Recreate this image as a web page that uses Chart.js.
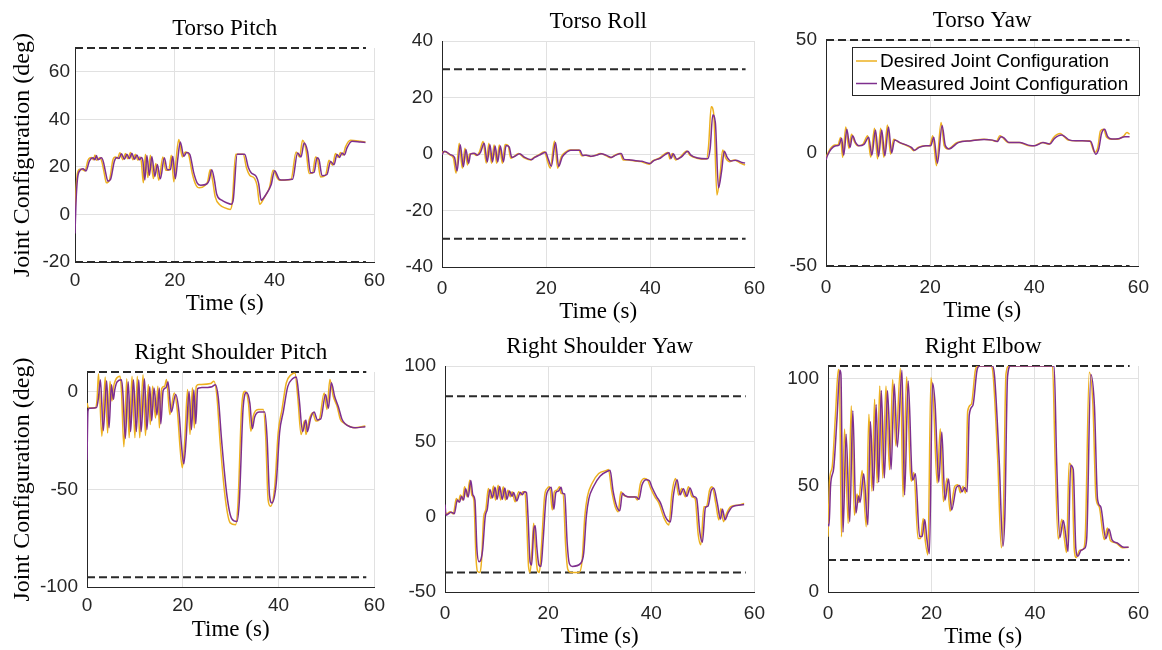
<!DOCTYPE html>
<html>
<head>
<meta charset="utf-8">
<script src="https://cdn.jsdelivr.net/npm/chart.js@4.4.1/dist/chart.umd.min.js"></script>
<style>
  html, body { margin: 0; padding: 0; background: #fff; }
  body { width: 1162px; height: 650px; position: relative; overflow: hidden; }
  canvas { position: absolute; }
</style>
</head>
<body>
<script>
// ---- data: [time (s), angle (deg)] ----
const timeTicks = [0, 20, 40, 60];
const limitSpan = [0, 58.3];

const torsoPitchTicks = [-20, 0, 20, 40, 60];
const torsoPitchLimits = [70, -20];
const torsoPitchDesired = [[0,1],[0.25,12],[0.5,17.5],[1,19],[1.6,18.8],[2,18.3],[2.6,22.8],[3.3,24],[3.7,23],[4,25],[4.3,22.8],[5,24],[5.4,22],[5.8,18],[6.3,13.3],[6.9,14.4],[7.6,23],[8.1,24.2],[8.5,23.5],[9,25.9],[9.6,23],[10.1,25.6],[10.6,23.4],[11.1,26],[11.6,23],[12.1,25.3],[12.6,22.8],[13,24.2],[13.3,22],[13.7,13.3],[14.1,25.3],[14.6,15.5],[15.1,24.9],[15.7,15.1],[16.2,21.4],[16.8,14.4],[17.6,24.2],[18.2,18.6],[18.8,18.6],[19.3,24.9],[19.8,13.7],[20.3,24],[20.8,31.5],[21.5,24.2],[22.1,26.3],[22.7,25.6],[23.5,17.2],[24.2,12.5],[24.9,11.2],[26.1,12.3],[26.6,14],[27.1,18.9],[27.6,14],[28.1,7.4],[29.1,3.9],[30,2.8],[31.1,2.1],[31.5,5],[32.2,25.3],[33.7,25.3],[34.4,19.3],[35,16.5],[36,15.1],[36.5,12],[37,4.3],[38,7.4],[39,11.6],[39.7,18.6],[40.6,15.1],[41,14.4],[43.3,14.8],[44.3,26.3],[45,24.2],[45.6,31.2],[46.3,27],[46.9,17.2],[47.6,17.5],[48.2,24.2],[48.6,23],[49.2,15.8],[50.2,16.5],[50.9,22.8],[51.6,20.7],[52.2,25.6],[52.7,24],[53.2,26],[53.7,25],[54.2,28.4],[55.2,31.2],[57.2,30.8],[58.2,30.5]];
const torsoPitchMeasured = [[0,-8],[0.2,5],[0.5,15],[1,18.5],[1.6,19.2],[2.2,18.3],[2.9,22.5],[3.6,23.8],[4,23],[4.3,24.8],[4.6,23],[5.3,23.8],[5.7,22],[6.1,18],[6.6,14],[7.1,14.6],[7.9,22.5],[8.4,24],[8.8,23.5],[9.3,25.5],[9.9,23.2],[10.4,25.3],[10.9,23.5],[11.4,25.7],[11.9,23.2],[12.4,25],[12.9,23],[13.3,24],[13.6,22.5],[14,14.5],[14.4,24.8],[14.9,16.5],[15.4,24.4],[16,16],[16.5,21],[17.1,15],[17.9,23.8],[18.5,18.8],[19.1,18.8],[19.6,24.5],[20.1,15],[20.6,23.5],[21.1,30.5],[21.8,24.5],[22.4,26],[23,25.3],[23.8,17.5],[24.5,13.2],[25.2,12.3],[26.4,12.8],[26.9,14.5],[27.4,18.8],[27.9,14.8],[28.4,8.5],[29.4,6],[30.3,5],[31.3,4.3],[31.7,6],[32.5,25.3],[34,25.3],[34.7,20],[35.3,17.5],[36.3,16],[36.8,13],[37.3,6],[38.3,8.5],[39.3,12.5],[40,18.4],[40.9,14.8],[41.3,14.5],[43.6,14.8],[44.6,25.8],[45.3,24.2],[45.9,30],[46.6,26.5],[47.2,17.5],[47.9,17.7],[48.5,23.8],[48.9,23],[49.5,16.3],[50.5,16.8],[51.2,22.3],[51.9,20.9],[52.5,25.2],[53,24],[53.5,25.8],[54,25],[54.5,28],[55.5,30.8],[57.2,30.5],[58.2,30.3]];

const torsoRollTicks = [-40, -20, 0, 20, 40];
const torsoRollLimits = [30, -30];
const torsoRollDesired = [[0,0.6],[0.6,0.8],[1.6,-0.4],[2.2,-1.5],[2.7,-6.8],[3.3,3.8],[3.9,-5],[4.4,2],[4.9,-3.9],[5.3,0],[6,0.2],[6.6,-0.5],[7.2,0.8],[7.9,4.4],[8.5,-3.3],[9,3.8],[9.5,-3.3],[10,3.2],[10.5,-3.3],[11,3.2],[11.6,-3.3],[12.1,3.4],[12.7,3],[13.2,-1.5],[13.8,-0.9],[14.7,0.2],[15.7,-1.3],[17,-2.1],[17.6,-1.3],[18.5,-0.4],[19.7,0.8],[20.2,-2.1],[20.8,-5],[21.6,4.6],[22.2,-5],[22.9,-1],[23.8,0.8],[24.5,1.4],[26.3,1.4],[26.8,-0.6],[27.6,-0.4],[28.5,-0.9],[29.5,-0.4],[30.4,0.2],[31.3,-0.4],[32.3,-1.3],[33.2,-0.4],[34.2,0.2],[34.8,-2.1],[35.7,-2.1],[37,-2.5],[38.2,-2.7],[39.8,-3.6],[40.4,-2.5],[41.7,-1.5],[42.9,0.2],[43.4,0.5],[43.8,-1.8],[44.2,0.2],[44.9,-2.1],[45.8,-1],[47,1.1],[47.6,-0.4],[48.9,-1.5],[50.8,-1.8],[51.2,3],[51.7,16.7],[52.2,13.8],[52.8,-14.5],[53.4,-7.4],[53.9,1.4],[54.5,-1.5],[55.2,-2.7],[56.1,-2.1],[57.4,-3.3],[58.2,-3.9]];
const torsoRollMeasured = [[0,-0.2],[0.5,1],[1.6,-0.2],[2.4,-1.2],[2.9,-6],[3.5,3.3],[4.1,-4.5],[4.6,1.6],[5.1,-3.3],[5.5,0],[6.2,0.3],[6.8,-0.4],[7.4,0.6],[8.1,3.8],[8.7,-2.8],[9.2,3.3],[9.7,-2.8],[10.2,2.8],[10.7,-2.8],[11.2,2.8],[11.8,-2.8],[12.3,3],[12.9,2.5],[13.4,-1.2],[14,-0.8],[14.9,0.1],[15.9,-1.2],[17.2,-2],[17.8,-1.2],[18.7,-0.4],[19.9,0.6],[20.4,-1.8],[21,-4.3],[21.8,4.1],[22.4,-4.4],[23.1,-1],[24,0.7],[24.7,1.3],[26.5,1.3],[27,-0.5],[27.8,-0.4],[28.7,-0.8],[29.7,-0.4],[30.6,0.1],[31.5,-0.4],[32.5,-1.2],[33.4,-0.4],[34.4,0.2],[35,-1.9],[35.9,-2],[37.2,-2.4],[38.4,-2.6],[40,-3.4],[40.6,-2.4],[41.9,-1.5],[43.1,0.1],[43.6,0.4],[44,-1.6],[44.4,0.1],[45.1,-1.9],[46,-1],[47.2,1],[47.8,-0.4],[49.1,-1.4],[51,-1.7],[51.5,2],[52,13.8],[52.5,11],[53.1,-12],[53.7,-6],[54.2,1],[54.8,-1.3],[55.5,-2.5],[56.4,-2.2],[57.6,-3],[58.2,-3.2]];

const torsoYawTicks = [-50, 0, 50];
const torsoYawLimits = [50, -50];
const torsoYawDesired = [[0,-1.9],[0.8,1.8],[1.75,3.5],[2.3,3.6],[2.8,6.9],[3.2,-1.9],[3.8,11.5],[4.4,2],[4.9,8.3],[5.5,4.8],[6.1,3.2],[7.1,3.9],[8,7.6],[8.6,-1.9],[9.3,11],[9.9,-2.6],[10.5,11],[11.1,-1.9],[11.8,12.4],[12.4,-0.5],[13,6.1],[14,4.7],[14.9,3.9],[16.2,2.5],[16.8,1],[17.7,2.5],[19,3.2],[19.9,3.2],[20.5,7.6],[21.2,-5.6],[22.1,13.5],[22.7,3.2],[23.4,1.8],[25.2,4.7],[27.7,5.4],[30.2,6.1],[31.8,5.7],[32.7,5.1],[33.4,7.6],[33.9,6.9],[34.9,4.7],[37.1,4.7],[39,3.2],[39.9,3.2],[41.5,4.7],[42.8,3.9],[43.7,6.9],[45,8.6],[45.6,7.6],[46.5,5.7],[47.8,5.4],[49,5.4],[50.6,5.4],[51.6,0.3],[52.2,2.5],[52.7,9.8],[53.3,10.5],[53.9,6.9],[54.7,6.1],[55.9,6.1],[57.2,7.6],[57.8,9.1],[58.3,8.3]];
const torsoYawMeasured = [[0,-3],[0.3,-1],[1,1.8],[1.9,3.2],[2.5,3.5],[3,6.5],[3.4,-1],[4,10.5],[4.6,2.5],[5.1,7.6],[5.7,4.6],[6.3,3.2],[7.3,3.8],[8.2,7],[8.8,-1],[9.5,10.2],[10.1,-1.5],[10.7,10.2],[11.3,-1.2],[12,11.5],[12.6,0],[13.2,5.8],[14.2,4.6],[15.1,3.8],[16.4,2.5],[17,1.2],[17.9,2.5],[19.2,3.2],[20.1,3.2],[20.7,7],[21.4,-4.5],[22.3,12.2],[22.9,3.4],[23.6,1.8],[25.4,4.6],[27.9,5.4],[30.4,6],[32,5.7],[32.9,5.1],[33.6,7.2],[34.1,6.8],[35.1,4.7],[37.3,4.6],[39.2,3.3],[40.1,3.2],[41.7,4.6],[43,4],[43.9,6.5],[45.2,8],[45.8,7.4],[46.7,5.8],[48,5.4],[49.2,5.4],[50.8,5.2],[51.8,-0.5],[52.4,2],[52.9,8.5],[53.5,10.5],[54.1,7.2],[54.9,6.2],[56.1,6.3],[57.4,7.2],[58.3,7.2]];

const shoulderPitchTicks = [-100, -50, 0];
const shoulderPitchLimits = [10, -95];
const shoulderPitchDesired = [[0,-5.8],[0.3,-8.4],[1.7,-8.4],[2.1,-4],[2.4,9.1],[3.1,-22.9],[3.8,7.4],[4.3,-21.2],[4.8,5.3],[5.2,-4.9],[5.5,1.9],[6,6.1],[6.9,7.8],[7.2,0],[7.7,-28.3],[8.3,6.5],[8.8,-23.7],[9.4,7.8],[10,-23.7],[10.5,7.8],[11,-23.7],[11.7,8.6],[12.2,-22.5],[12.8,3.6],[13.2,-16.9],[13.7,2.7],[14.3,-13.5],[14.8,2.7],[15.1,-18.6],[15.6,1.5],[16.2,2.7],[16.6,6.1],[17.3,-11.8],[18.2,-0.7],[18.9,-10.9],[19.4,-27.9],[19.9,-39],[20.4,-25],[21,1],[21.5,-22],[22,1.9],[22.4,-18.6],[22.8,2.7],[23.4,3.6],[25.8,4.1],[26.5,5.3],[27.1,-2],[27.8,-26.3],[28.9,-55.3],[29.9,-67.2],[31,-68.1],[31.5,-58],[32.3,-7.5],[33,0.2],[33.7,-5.8],[34.2,-20.3],[34.7,-12.6],[35.7,-9.2],[36.8,-9.2],[37.3,-23],[37.8,-55.3],[38.3,-58.7],[39.2,-48.4],[39.9,-21.2],[40.7,-9.2],[41.6,4.4],[42.6,8.6],[43.4,9.5],[44,-3],[44.7,-22],[45.4,-15],[45.7,-22],[46.4,-14.3],[47.1,-10.9],[47.8,-15.1],[48.5,-14.3],[49.5,-0.7],[50.1,-9.2],[50.7,6.1],[51.4,-2.4],[52.2,-7.5],[52.9,-14.3],[53.6,-16],[54.6,-17.6],[55.7,-18.5],[58.1,-17.6]];
const shoulderPitchMeasured = [[0,-35],[0.2,-10],[0.5,-8.5],[2,-8.2],[2.4,-3],[2.8,6],[3.4,-20],[4.1,5.5],[4.6,-18.5],[5.1,3.5],[5.5,-4],[5.8,1],[6.3,5],[7.2,6],[7.5,-1],[8,-24],[8.6,5],[9.1,-20.5],[9.7,6],[10.3,-20.5],[10.8,6],[11.3,-20.5],[12,6.5],[12.5,-19.5],[13.1,2.5],[13.5,-15],[14,1.8],[14.6,-12],[15.1,1.8],[15.4,-16.5],[15.9,0.5],[16.5,2],[16.9,5],[17.6,-10.5],[18.5,-1.5],[19.2,-10.5],[19.7,-27],[20.2,-37],[20.7,-24],[21.3,0],[21.8,-19.5],[22.3,0.8],[22.7,-16.5],[23.1,1.5],[23.7,2],[26.1,2.5],[26.8,3.5],[27.4,-3],[28.1,-25],[29.2,-53],[30.2,-65],[31.3,-66.5],[31.8,-56],[32.6,-8],[33.3,-0.5],[34,-6],[34.5,-19],[35,-13],[36,-10.5],[37.1,-10.5],[37.6,-24],[38.1,-53],[38.6,-57],[39.5,-47],[40.2,-21],[41,-10],[41.9,2.5],[42.9,6.5],[43.7,7.5],[44.3,-4],[45,-20.5],[45.7,-14.5],[46,-20.5],[46.7,-13.5],[47.4,-10.5],[48.1,-14.5],[48.8,-14],[49.8,-1.5],[50.4,-8.5],[51,4.5],[51.7,-2.5],[52.5,-8],[53.2,-14],[53.9,-16.5],[54.9,-18],[56,-18.5],[58.1,-18]];

const shoulderYawTicks = [-50, 0, 50, 100];
const shoulderYawLimits = [80, -37];
const shoulderYawDesired = [[0,3.3],[0.3,1.8],[1,3.3],[1.6,1.8],[2.2,12],[2.6,9.9],[3,14.3],[3.4,11],[3.8,19.8],[4.3,13.2],[4.8,24.2],[5.2,14.3],[5.6,11],[6,-26.4],[6.3,-36.3],[6.8,-37],[7.1,-28.6],[7.5,0],[7.9,4.4],[8.4,18.7],[8.9,12],[9.4,20.3],[9.8,11],[10.3,20.9],[10.8,11],[11.3,19.8],[11.7,11],[12.2,17.6],[12.7,13.2],[13,16.5],[13.6,9.9],[14.3,16.5],[14.7,14.3],[15.1,16.5],[15.5,16.5],[15.8,0],[16.2,-33],[16.5,-37],[16.9,-19.8],[17.2,-4.4],[17.5,-19.8],[17.9,-35.2],[18.3,-37],[18.7,-19.8],[19.3,13.2],[19.8,18.7],[20.3,19.8],[20.8,4.4],[21.2,16.5],[21.7,17.6],[22.2,19.8],[22.5,15.4],[22.9,15.4],[23.4,-19.8],[23.8,-34.8],[24.4,-37],[26,-37],[26.6,-28.6],[27.1,0],[27.6,13.2],[28.5,22],[29.8,28.6],[31.4,30.8],[31.7,31.3],[32.3,17.6],[33,6.6],[33.6,3.3],[34.1,16.5],[34.6,14.3],[35.5,13.2],[36.8,13.2],[37.3,11],[37.9,22],[38.7,25.3],[39.3,24.2],[39.9,18.7],[40.7,13.2],[41.5,8.8],[42.5,-1.1],[43.4,-5.5],[44,15.4],[44.7,25.3],[45.3,14.3],[45.9,18.7],[46.6,13.2],[47.2,19.8],[47.9,13.2],[48.5,12],[49.1,-12],[49.6,-18.7],[50.2,6.6],[50.7,6.6],[51.3,17.6],[51.8,19.8],[52.5,8.8],[53.1,-2.2],[53.5,5.5],[54,-3.3],[54.6,2.2],[55.4,6.6],[57,7.7],[58,8.8]];
const shoulderYawMeasured = [[0,8],[0.2,1],[1.2,3],[1.8,2],[2.4,11],[2.8,9.5],[3.2,13.5],[3.6,11],[4,18.5],[4.5,13],[5,24],[5.4,14.5],[5.8,11],[6.2,-22],[6.6,-30],[7,-28],[7.3,-22],[7.8,0],[8.2,5],[8.7,18],[9.2,12.5],[9.7,19.5],[10.1,11.5],[10.6,20],[11.1,11.5],[11.6,19],[12,11.5],[12.5,17],[13,13.5],[13.3,16],[13.9,10.5],[14.6,16],[15,14.5],[15.4,16.5],[15.8,16],[16.1,0],[16.5,-30],[16.8,-32],[17.2,-9],[17.5,-6],[17.8,-20],[18.2,-32],[18.6,-33],[19,-17],[19.6,12.5],[20.1,18],[20.6,19.5],[21.1,5],[21.5,16],[22,17],[22.5,19.5],[22.8,15.5],[23.2,15],[23.7,-18],[24.1,-31],[24.7,-33],[26.3,-31],[26.9,-24],[27.4,0],[27.9,12],[28.8,20],[30.1,27],[31.7,30.5],[32,30.8],[32.6,17],[33.3,6.8],[33.9,4],[34.4,15.5],[34.9,14],[35.8,13],[37.1,13],[37.6,11.5],[38.2,21],[39,24.5],[39.6,24],[40.2,19],[41,13.5],[41.8,9],[42.8,-0.5],[43.7,-3.5],[44.3,14.5],[45,24.5],[45.6,14.5],[46.2,18.5],[46.9,13.5],[47.5,19],[48.2,13.5],[48.8,12],[49.4,-10],[49.9,-17],[50.5,6],[51,7],[51.6,17],[52.1,19],[52.8,9],[53.4,-1.5],[53.8,5],[54.3,-2],[54.9,2.5],[55.7,6.5],[57.3,7.7],[58,8]];

const elbowTicks = [0, 50, 100];
const elbowLimits = [106, 15];
const elbowDesired = [[0,25.9],[0.3,52.3],[0.8,58.5],[1.45,83.4],[2,104.3],[2.2,103],[2.6,25.9],[3.2,76.4],[3.9,32.1],[4.5,87.3],[5.1,36],[5.6,46],[5.9,42],[6.6,57],[7.4,30.6],[7.9,83.4],[8.5,47.2],[9,90.4],[9.5,51],[10,96.6],[10.6,53.4],[11.2,96.6],[11.9,57.3],[12.5,99.7],[13.1,68.6],[14,105],[14.5,44.6],[15.2,100.9],[15.9,56.6],[16.1,52],[16.6,56],[17.4,25.1],[17.9,25.1],[18.4,34.5],[18.8,24],[19.3,17.4],[19.9,100.5],[20.4,88],[21.1,51],[21.7,76.6],[22.3,42.4],[23,53.4],[23.6,37.9],[24.5,49.5],[25.1,50.3],[25.6,46.5],[26.1,49.5],[26.6,46.4],[27,84.9],[27.7,88],[28.5,104.3],[29,106],[31.5,106],[31.9,102.3],[32.8,62],[33.5,20.8],[33.9,37],[34.4,102.3],[35,106],[43.4,106],[43.9,62],[44.5,24.8],[45.2,34.1],[45.7,24.8],[46.1,18.5],[46.6,60.4],[47.1,58],[47.6,20],[48,16.2],[48.6,19.5],[49.3,20],[49.7,24.8],[50.5,103.1],[51.2,88],[51.8,44],[52.4,40.1],[53.4,24.6],[54,30],[54.6,24],[55.6,23.1],[56.9,20.8],[58.1,21]];
const elbowMeasured = [[0,32],[0.2,31],[0.5,50],[1.1,58],[1.75,82],[2.3,104],[2.5,102],[2.9,28],[3.5,74],[4.2,33],[4.8,85],[5.4,37],[5.9,45],[6.2,42],[6.9,55.5],[7.7,31.5],[8.2,80],[8.8,47.5],[9.3,88],[9.8,51.5],[10.3,94.5],[10.9,53.5],[11.5,94.5],[12.2,57.5],[12.8,97.5],[13.4,68],[14.3,104],[14.8,45.5],[15.5,99],[16.2,56],[16.4,52.5],[16.9,55.5],[17.7,26],[18.2,26],[18.7,34],[19.1,25],[19.6,18],[20.2,98],[20.7,88],[21.4,51.5],[22,75],[22.6,43],[23.3,53],[23.9,38.5],[24.8,49],[25.4,50],[25.9,47],[26.4,49],[26.9,47],[27.3,83],[28,87.5],[28.8,104],[29.3,106],[31.8,106],[32.2,101],[33.1,61],[33.8,21.5],[34.2,37],[34.7,101],[35.3,106],[43.7,106],[44.2,61],[44.8,25.5],[45.5,33.5],[46,25.5],[46.4,19],[46.9,59.5],[47.4,57.5],[47.9,20.5],[48.3,16.8],[48.9,19.5],[49.6,20.5],[50,25],[50.8,102],[51.5,87],[52.1,43.5],[52.7,40],[53.7,25],[54.3,29.5],[54.9,24.5],[55.9,23],[57.2,21],[58.1,21]];

// ---- styling ----
const desiredColor = '#EDB120';
const measuredColor = '#7E2F8E';
const limitColor = '#2a2a2a';
const axisColor = '#262626';
const gridColor = '#e1e1e1';
const serif = 'Liberation Serif';
const sans = 'Liberation Sans';

// box = plot area [left, top, right, bottom] in page pixels
const panels = [
  { title: 'Torso Pitch', desired: torsoPitchDesired, measured: torsoPitchMeasured, limits: torsoPitchLimits,
    yMin: -20, yMax: 70, yTicks: torsoPitchTicks, box: [75, 48, 378, 262], yLabel: true, yPad: 5, xPad: 7, xTitle: 42 },
  { title: 'Torso Roll', desired: torsoRollDesired, measured: torsoRollMeasured, limits: torsoRollLimits,
    yMin: -40, yMax: 40, yTicks: torsoRollTicks, box: [442, 41, 761, 267], yLabel: false, yPad: 9, xPad: 10, xTitle: 45 },
  { title: 'Torso Yaw', desired: torsoYawDesired, measured: torsoYawMeasured, limits: torsoYawLimits,
    yMin: -50, yMax: 50, yTicks: torsoYawTicks, box: [826, 40, 1145, 266], yLabel: false, yPad: 9, xPad: 10, xTitle: 45, legend: true },
  { title: 'Right Shoulder Pitch', desired: shoulderPitchDesired, measured: shoulderPitchMeasured, limits: shoulderPitchLimits,
    yMin: -100, yMax: 10, yTicks: shoulderPitchTicks, box: [87, 372, 378, 587], yLabel: true, yPad: 9, xPad: 7, xTitle: 43 },
  { title: 'Right Shoulder Yaw', desired: shoulderYawDesired, measured: shoulderYawMeasured, limits: shoulderYawLimits,
    yMin: -50, yMax: 100, yTicks: shoulderYawTicks, box: [445, 366, 761, 592], yLabel: false, yPad: 9, xPad: 10, xTitle: 45 },
  { title: 'Right Elbow', desired: elbowDesired, measured: elbowMeasured, limits: elbowLimits,
    yMin: 0, yMax: 106, yTicks: elbowTicks, box: [828, 366, 1145, 592], yLabel: false, yPad: 9, xPad: 10, xTitle: 45 },
];

function toXY(pairs) {
  return pairs.map(p => ({ x: p[0], y: p[1] }));
}

// MATLAB style legend box in the upper right of the axes
const boxLegend = {
  id: 'boxLegend',
  afterDraw(chart) {
    const ctx = chart.ctx;
    const ca = chart.chartArea;
    const x0 = ca.left + 26, y0 = ca.top + 7, w = 287, h = 48;
    const items = chart.data.datasets.filter(d => d.label);
    ctx.save();
    ctx.fillStyle = '#fff';
    ctx.fillRect(x0, y0, w, h);
    ctx.strokeStyle = '#262626';
    ctx.lineWidth = 1;
    ctx.strokeRect(x0 + 0.5, y0 + 0.5, w, h);
    ctx.font = '19px "' + sans + '"';
    ctx.textBaseline = 'middle';
    ctx.fillStyle = '#000';
    items.forEach((d, i) => {
      const y = y0 + 14 + i * 22.5;
      ctx.strokeStyle = d.borderColor;
      ctx.lineWidth = 1.5;
      ctx.beginPath();
      ctx.moveTo(x0 + 4, y);
      ctx.lineTo(x0 + 25, y);
      ctx.stroke();
      ctx.fillText(d.label, x0 + 28, y + 1);
    });
    ctx.restore();
  }
};

function makeChart(p) {
  const [L, T, R, B] = p.box;
  const cl = p.yLabel ? 0 : L - 55;
  const ct = T - 33;
  const cw = R + 14 - cl;
  const ch = B + 62 - ct;
  const canvas = document.createElement('canvas');
  canvas.width = cw;
  canvas.height = ch;
  canvas.style.left = cl + 'px';
  canvas.style.top = ct + 'px';
  canvas.style.width = cw + 'px';
  canvas.style.height = ch + 'px';
  document.body.appendChild(canvas);

  // limit lines sit on the axes edges, so let them draw past the clip box
  const datasets = p.limits.map(v => ({
    data: limitSpan.map(t => ({ x: t, y: v })),
    borderColor: limitColor, borderWidth: 2, borderDash: [8, 4], order: 3, clip: false
  }));
  datasets.push({ label: 'Desired Joint Configuration', data: toXY(p.desired), borderColor: desiredColor, borderWidth: 1.5, order: 2 });
  datasets.push({ label: 'Measured Joint Configuration', data: toXY(p.measured), borderColor: measuredColor, borderWidth: 1.5, order: 1 });

  const tickFont = { family: sans, size: 19 };
  new Chart(canvas, {
    type: 'line',
    data: { datasets },
    options: {
      responsive: false,
      animation: false,
      devicePixelRatio: 1,
      layout: { autoPadding: false, padding: { left: 0, top: 0, right: cl + cw - R, bottom: 0 } },
      elements: { point: { radius: 0 }, line: { cubicInterpolationMode: 'monotone', borderJoinStyle: 'round' } },
      plugins: {
        legend: { display: false },
        tooltip: { enabled: false },
        title: {
          display: true, text: p.title, fullSize: false, color: '#000',
          font: { family: serif, size: 23, weight: 'normal' },
          padding: { top: 0, bottom: 5.4 }
        }
      },
      scales: {
        x: {
          type: 'linear', min: 0, max: 60,
          afterBuildTicks: s => { s.ticks = timeTicks.map(v => ({ value: v })); },
          afterFit: s => { s.height = ch - (B - ct); },
          ticks: { padding: p.xPad, font: tickFont, color: axisColor, maxRotation: 0, autoSkip: false },
          grid: { color: gridColor, drawTicks: false },
          border: { color: axisColor },
          title: {
            display: true, text: 'Time (s)', color: '#000',
            font: { family: serif, size: 23 },
            padding: { top: 0, bottom: 62 - p.xTitle - 13.8 }
          }
        },
        y: {
          type: 'linear', min: p.yMin, max: p.yMax,
          afterBuildTicks: s => { s.ticks = p.yTicks.map(v => ({ value: v })); },
          afterFit: s => { s.width = L - cl; },
          ticks: { padding: p.yPad, font: tickFont, color: axisColor, callback: v => String(v) },
          grid: { color: gridColor, drawTicks: false },
          border: { color: axisColor },
          title: {
            display: p.yLabel, text: 'Joint Configuration (deg)', color: '#000',
            font: { family: serif, size: 24 },
            padding: { top: 23 - 14.4, bottom: 0 }
          }
        }
      }
    },
    plugins: p.legend ? [boxLegend] : []
  });
}

panels.forEach(makeChart);
</script>
</body>
</html>
